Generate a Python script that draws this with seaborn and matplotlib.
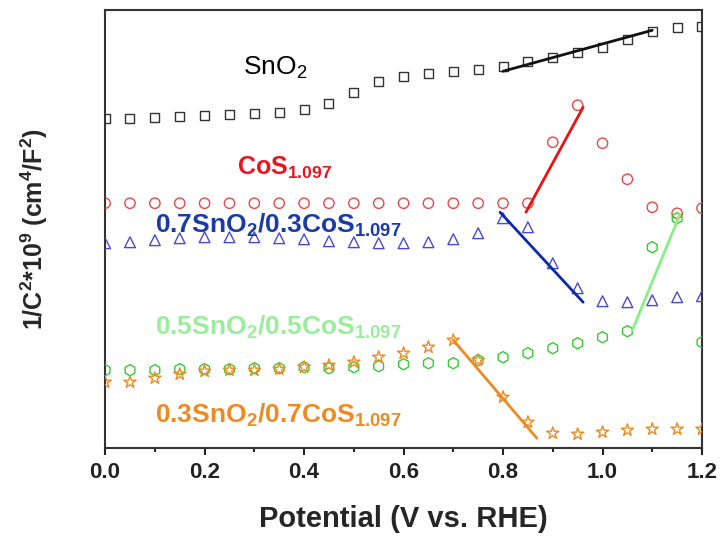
import matplotlib.pyplot as plt
from matplotlib.ticker import MultipleLocator
import seaborn as sns
import pandas as pd

# potential steps (V vs. RHE)
potential = [round(0.05 * i, 2) for i in range(25)]

# 1/C^2 values (arbitrary units, axis has no labels)
sno2 = [3.30, 3.30, 3.31, 3.32, 3.33, 3.34, 3.35, 3.36, 3.39, 3.45, 3.56, 3.67, 3.72,
        3.75, 3.77, 3.79, 3.82, 3.87, 3.91, 3.96, 4.01, 4.09, 4.17, 4.21, 4.22]
cos = [2.45] * 18 + [3.06, 3.43, 3.05, 2.69, 2.41, 2.35, 2.40]
sn7co3 = [2.05, 2.06, 2.08, 2.10, 2.11, 2.11, 2.11, 2.10, 2.09, 2.07, 2.06, 2.05, 2.05,
          2.06, 2.09, 2.15, 2.30, 2.21, 1.85, 1.60, 1.47, 1.46, 1.48, 1.51, 1.52]
sn5co5 = [0.78, 0.78, 0.78, 0.79, 0.79, 0.79, 0.80, 0.80, 0.81, 0.80, 0.81, 0.82, 0.84,
          0.85, 0.85, 0.88, 0.91, 0.95, 1.00, 1.05, 1.11, 1.17, 2.01, 2.30, 1.06]
sn3co7 = [0.66, 0.66, 0.70, 0.74, 0.77, 0.78, 0.78, 0.79, 0.81, 0.83, 0.86, 0.91, 0.95,
          1.01, 1.08, 0.88, 0.51, 0.26, 0.15, 0.14, 0.16, 0.18, 0.19, 0.19, 0.19]

# linear fit segments (x0, x1), (y0, y1)
fit_sno2 = ([0.80, 1.10], [3.77, 4.18])
fit_cos = ([0.846, 0.961], [2.36, 3.41])
fit_sn7co3 = ([0.794, 0.961], [2.36, 1.46])
fit_sn5co5 = ([1.06, 1.155], [1.18, 2.33])
fit_sn3co7 = ([0.70, 0.868], [1.08, 0.10])

sns.set_theme(style="ticks")
plt.rcParams["font.family"] = ["Liberation Sans", "DejaVu Sans"]
plt.rcParams["mathtext.default"] = "regular"

fig = plt.figure(figsize=(7.2, 5.4), dpi=100)
ax = fig.add_axes([0.146, 0.170, 0.829, 0.811])

series = [
    (sno2, "s", "#333333", 42, fit_sno2, "#111111"),
    (cos, "o", "#e84848", 55, fit_cos, "#ee1111"),
    (sn7co3, "^", "#4a4ad0", 60, fit_sn7co3, "#0a2aa8"),
    (sn5co5, "h", "#33cc33", 65, fit_sn5co5, "#88ee88"),
    (sn3co7, "*", "#ee8a22", 85, fit_sn3co7, "#ee8a22"),
]

for vals, mk, col, size, fit, lcol in series:
    df = pd.DataFrame({"potential": potential, "value": vals})
    sns.scatterplot(data=df, x="potential", y="value", marker=mk, s=size,
                    facecolors="none", edgecolors=col, linewidths=1.0, ax=ax, zorder=3)
    sns.lineplot(x=fit[0], y=fit[1], color=lcol, linewidth=2.0, ax=ax, zorder=4)

ax.text(0.277, 3.80, r"SnO$_{2}$", fontsize=19, color="black", va="center")
ax.text(0.265, 2.80, r"CoS$_{1.097}$", fontsize=18, color="#e8141e",
        fontweight="bold", va="center")
ax.text(0.100, 2.23, r"0.7SnO$_{2}$/0.3CoS$_{1.097}$", fontsize=19, color="#1a3aa8",
        fontweight="bold", va="center")
ax.text(0.100, 1.21, r"0.5SnO$_{2}$/0.5CoS$_{1.097}$", fontsize=19, color="#99ee99",
        fontweight="bold", va="center")
ax.text(0.100, 0.33, r"0.3SnO$_{2}$/0.7CoS$_{1.097}$", fontsize=19, color="#ee8a1e",
        fontweight="bold", va="center")

ax.set_xlim(0, 1.2)
ax.set_ylim(0, 4.38)
ax.xaxis.set_major_locator(MultipleLocator(0.2))
ax.xaxis.set_minor_locator(MultipleLocator(0.1))
ax.set_yticks([])
ax.tick_params(axis="x", which="major", direction="out", length=5, width=1.5,
               labelsize=16, pad=5, colors="#222222")
ax.tick_params(axis="x", which="minor", direction="out", length=3, width=1.5)
for lab in ax.get_xticklabels():
    lab.set_fontweight("bold")
for sp in ax.spines.values():
    sp.set_visible(True)
    sp.set_linewidth(1.5)
    sp.set_color("#333333")

ax.set_xlabel("Potential (V vs. RHE)", fontsize=21, fontweight="bold", labelpad=16)
ax.set_ylabel(r"1/C$^{2}$*10$^{9}$ (cm$^{4}$/F$^{2}$)", fontsize=18,
              fontweight="bold", labelpad=40)

plt.savefig("out.png", dpi=100)
